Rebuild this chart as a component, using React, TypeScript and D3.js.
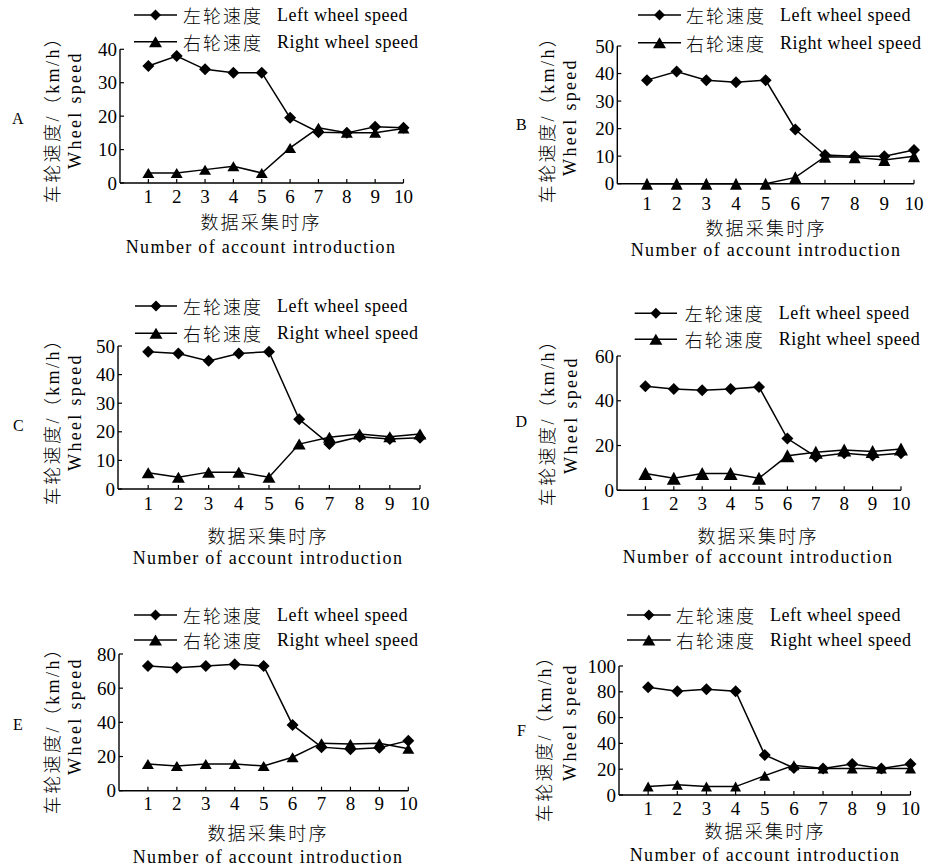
import React from "react";
import * as d3 from "d3";

// sampling order on the x axis
const samples = [1, 2, 3, 4, 5, 6, 7, 8, 9, 10];
const panelLetters = ["A", "B", "C", "D", "E", "F"];
const yMaxes = [40, 50, 50, 60, 80, 100];
const yTickSteps = [10, 10, 10, 20, 20, 20];

// wheel speed (km/h) per panel
const leftA = [35, 38, 34, 33, 33, 19.5, 15.2, 15, 16.8, 16.5];
const rightA = [3, 3, 4, 5, 3, 10.5, 16.5, 15, 15, 16.3];
const leftB = [37.6, 40.7, 37.6, 36.8, 37.6, 19.7, 10.4, 10, 10, 12.2];
const rightB = [0, 0, 0, 0, 0, 2.3, 9.8, 9.6, 8.6, 10];
const leftC = [48, 47.4, 44.8, 47.4, 48, 24.4, 15.7, 18.3, 17.5, 17.9];
const rightC = [5.7, 4.1, 5.9, 5.9, 4.1, 15.7, 18.1, 19.2, 18.3, 19.2];
const leftD = [46.5, 45.3, 44.7, 45.3, 46.2, 23.1, 15, 16.6, 15.6, 16.6];
const rightD = [7.5, 5.4, 7.5, 7.5, 5.4, 15.4, 17, 18, 17.3, 18.4];
const leftE = [73, 72, 73, 74, 73, 38.5, 25.5, 24.2, 25.1, 29.3];
const rightE = [15.6, 14.5, 15.6, 15.6, 14.5, 19.6, 27.8, 27.3, 27.8, 24.5];
const leftF = [83.5, 80.5, 82, 80.5, 31, 21, 20.5, 24, 20.5, 24];
const rightF = [6.5, 8, 6.5, 6.5, 15, 23, 20.5, 20.5, 20.5, 20.5];

const leftSeries = [leftA, leftB, leftC, leftD, leftE, leftF];
const rightSeries = [rightA, rightB, rightC, rightD, rightE, rightF];

const legendCn = ["左轮速度", "右轮速度"];
const legendEn = ["Left wheel speed", "Right wheel speed"];
const yTitleCn = "车轮速度/（km/h）";
const yTitleEn = "Wheel speed";
const xTitleCn = "数据采集时序";
const xTitleEn = "Number of account introduction";

// where each panel sits on the page
const layout = [
  { x0: 120, x10: 403.5, yTop: 49.3, yBot: 183, lx1: 134, lx2: 177, lt: 183, ly1: 15, ly2: 41.7, px: 12, py: 118, t1x: 53, t1y: 115, t2x: 75, t2y: 110, tickY: 196, xtY: 221, numY: 247, cx: 261, tri: [12, 10] },
  { x0: 617.3, x10: 914, yTop: 46, yBot: 183.7, lx1: 638, lx2: 681, lt: 686, ly1: 15, ly2: 42.7, px: 516, py: 124, t1x: 548, t1y: 115, t2x: 570, t2y: 117, tickY: 203, xtY: 226.7, numY: 250, cx: 766, tri: [12, 12] },
  { x0: 118, x10: 420, yTop: 346, yBot: 489, lx1: 135, lx2: 177, lt: 183, ly1: 306, ly2: 333.3, px: 13, py: 425, t1x: 53, t1y: 417, t2x: 75, t2y: 412, tickY: 503, xtY: 535, numY: 558, cx: 268, tri: [13, 11] },
  { x0: 617, x10: 901, yTop: 356, yBot: 490.3, lx1: 634.7, lx2: 677, lt: 684.7, ly1: 313.3, ly2: 339.3, px: 515.5, py: 421.7, t1x: 548, t1y: 418, t2x: 571, t2y: 415, tickY: 503.3, xtY: 535, numY: 556.7, cx: 758, tri: [14, 13] },
  { x0: 119, x10: 408.3, yTop: 654, yBot: 790.7, lx1: 134, lx2: 177, lt: 183, ly1: 615, ly2: 640, px: 13, py: 724, t1x: 53, t1y: 726, t2x: 75, t2y: 716, tickY: 803, xtY: 832, numY: 856.7, cx: 268, tri: [12, 10] },
  { x0: 619, x10: 910.5, yTop: 666, yBot: 795, lx1: 627, lx2: 670.7, lt: 676, ly1: 615, ly2: 640, px: 517, py: 730, t1x: 544.7, t1y: 734, t2x: 569.7, t2y: 722, tickY: 808.3, xtY: 830, numY: 855, cx: 765, tri: [11, 10] },
];

const serif = "Liberation Serif";
const mixed = "Liberation Serif, Noto Sans CJK SC";
const cjk = "Noto Sans CJK SC";

const diamond = (r: number) => `M0,${-r}L${r},0L0,${r}L${-r},0Z`;
const triangle = (w: number, h: number) =>
  `M0,${-h / 2}L${w / 2},${h / 2}L${-w / 2},${h / 2}Z`;

const Panel = ({ i }: { i: number }) => {
  const L = layout[i];
  const x = d3.scaleLinear().domain([0, 10]).range([L.x0, L.x10]);
  const y = d3.scaleLinear().domain([0, yMaxes[i]]).range([L.yBot, L.yTop]);
  const yTicks = d3.range(0, yMaxes[i] + 0.001, yTickSteps[i]);
  const line = d3
    .line<number>()
    .x((_, j) => x(samples[j]))
    .y((d) => y(d));
  const [tw, th] = L.tri;

  return (
    <g>
      <text x={L.px} y={L.py} style={{ fontFamily: serif }} fontSize={16} dominantBaseline="central">
        {panelLetters[i]}
      </text>

      {/* legend */}
      {[L.ly1, L.ly2].map((ly, k) => (
        <g key={k}>
          <line x1={L.lx1} x2={L.lx2} y1={ly} y2={ly} stroke="#000" strokeWidth={1.4} />
          <path
            transform={`translate(${(L.lx1 + L.lx2) / 2},${ly})`}
            d={k === 0 ? diamond(5.5) : triangle(13, 11)}
            fill="#000"
          />
          <text x={L.lt} y={ly} style={{ fontFamily: cjk }} fontSize={18} fontWeight={300} letterSpacing={2} dominantBaseline="central">
            {legendCn[k]}
          </text>
          <text x={L.lt + 94} y={ly} style={{ fontFamily: serif }} fontSize={18} letterSpacing={0.5} dominantBaseline="central">
            {legendEn[k]}
          </text>
        </g>
      ))}

      {/* axes */}
      <line x1={L.x0} x2={L.x0} y1={y(0)} y2={y(yMaxes[i])} stroke="#000" strokeWidth={1.4} />
      <line x1={L.x0} x2={x(10)} y1={y(0)} y2={y(0)} stroke="#000" strokeWidth={1.4} />
      {yTicks.map((t) => (
        <g key={t}>
          <line x1={L.x0} x2={L.x0 + 4} y1={y(t)} y2={y(t)} stroke="#000" strokeWidth={1.2} />
          <text x={L.x0 - 3} y={y(t)} textAnchor="end" style={{ fontFamily: serif }} fontSize={19} dominantBaseline="central">
            {t}
          </text>
        </g>
      ))}
      {samples.map((s) => (
        <g key={s}>
          <line x1={x(s)} x2={x(s)} y1={y(0)} y2={y(0) - 4} stroke="#000" strokeWidth={1.2} />
          <text x={x(s)} y={L.tickY} textAnchor="middle" style={{ fontFamily: serif }} fontSize={19} dominantBaseline="central">
            {s}
          </text>
        </g>
      ))}

      {/* axis titles */}
      <text x={L.cx} y={L.xtY} textAnchor="middle" style={{ fontFamily: cjk }} fontSize={18} fontWeight={300} letterSpacing={2.2} dominantBaseline="central">
        {xTitleCn}
      </text>
      <text x={L.cx} y={L.numY} textAnchor="middle" style={{ fontFamily: serif }} fontSize={18} letterSpacing={1.3} dominantBaseline="central">
        {xTitleEn}
      </text>
      <text
        transform={`translate(${L.t1x},${L.t1y}) rotate(-90)`}
        textAnchor="middle"
        style={{ fontFamily: mixed }}
        fontSize={18}
        fontWeight={300}
        letterSpacing={2.4}
        dominantBaseline="central"
      >
        {yTitleCn}
      </text>
      <text
        transform={`translate(${L.t2x},${L.t2y}) rotate(-90)`}
        textAnchor="middle"
        style={{ fontFamily: serif }}
        fontSize={18}
        letterSpacing={2.3}
        dominantBaseline="central"
      >
        {yTitleEn}
      </text>

      {/* series */}
      <path d={line(leftSeries[i]) || ""} fill="none" stroke="#000" strokeWidth={1.5} />
      <path d={line(rightSeries[i]) || ""} fill="none" stroke="#000" strokeWidth={1.5} />
      {leftSeries[i].map((v, j) => (
        <path key={"l" + j} transform={`translate(${x(samples[j])},${y(v)})`} d={diamond(6)} fill="#000" />
      ))}
      {rightSeries[i].map((v, j) => (
        <path key={"r" + j} transform={`translate(${x(samples[j])},${y(v)})`} d={triangle(tw, th)} fill="#000" />
      ))}
    </g>
  );
};

export default function App() {
  return (
    <svg
      width={938}
      height={868}
      style={{ position: "absolute", left: 0, top: 0, background: "#fff" }}
    >
      <rect width={938} height={868} fill="#fff" />
      {layout.map((_, i) => (
        <Panel key={i} i={i} />
      ))}
    </svg>
  );
}
